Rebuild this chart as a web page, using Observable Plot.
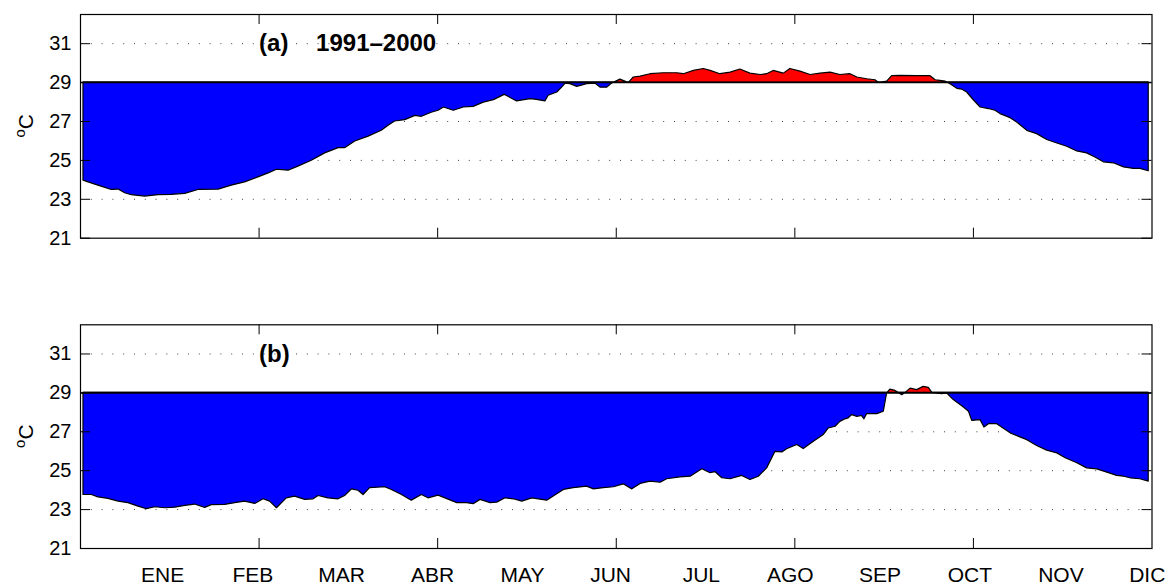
<!DOCTYPE html>
<html>
<head>
<meta charset="utf-8">
<script src="https://cdn.jsdelivr.net/npm/d3@7"></script>
<script src="https://cdn.jsdelivr.net/npm/@observablehq/plot@0.6"></script>
<style>
  html, body { margin: 0; padding: 0; background: #fff; }
  #chart { width: 1173px; height: 588px; font-family: "Liberation Sans", Arial, Helvetica, sans-serif; }
  #chart svg { display: block; background: #fff; overflow: visible; }
</style>
</head>
<body>
<div id="chart"></div>
<script>
// ---- data (day of a 360-day year, sea-surface temperature °C) ----
const threshold = 29;
const yTicks = [21, 23, 25, 27, 29, 31];
const xTicks = [60, 120, 180, 240, 300];
const months = ["ENE","FEB","MAR","ABR","MAY","JUN","JUL","AGO","SEP","OCT","NOV","DIC"];
const monthTickDays = [27.6, 57.9, 87.7, 118.3, 148.5, 178.1, 208.6, 238.5, 268.6, 298.8, 329.4, 358.4];

// panel (a) 1991–2000
const dayA = [1.0,2.7,6.0,10.5,12.8,15.0,17.2,21.7,26.2,30.7,35.2,39.6,46.4,50.8,55.3,59.8,63.2,66.0,69.9,73.2,
  77.7,82.2,86.7,88.9,92.3,96.8,101.2,103.5,105.7,109.1,112.5,114.7,118.0,120.3,122.1,125.4,128.8,132.1,135.5,138.9,
  142.5,146.7,151.2,153.4,156.2,157.3,160.2,161.8,163.0,164.6,166.9,170.2,173.0,174.7,177.0,178.6,181.4,184.2,185.9,188.2,
  191.5,196.0,200.5,202.7,206.1,209.4,211.7,215.0,218.4,221.7,225.1,228.5,230.7,232.9,236.3,238.5,241.9,245.3,248.6,252.0,
  255.3,258.7,261.0,264.3,267.1,268.2,271.0,272.7,275.5,281.1,285.6,287.3,288.9,290.6,292.3,294.6,296.2,297.9,299.9,302.4,
  305.2,307.4,309.1,312.5,314.7,318.1,321.4,324.8,328.2,331.5,334.9,338.2,341.0,343.8,347.2,350.6,353.9,356.1,358.9];
const sstA = [23.96,23.87,23.70,23.48,23.50,23.31,23.21,23.14,23.21,23.23,23.28,23.48,23.50,23.70,23.87,24.13,24.33,24.52,24.47,24.68,
  24.98,25.36,25.63,25.63,25.97,26.22,26.52,26.78,27.00,27.07,27.29,27.24,27.45,27.55,27.72,27.55,27.72,27.75,27.97,28.10,
  28.37,28.03,28.15,28.11,28.03,28.32,28.49,28.74,28.95,28.92,28.78,28.92,28.95,28.74,28.74,28.95,29.15,28.98,29.26,29.31,
  29.43,29.48,29.48,29.43,29.60,29.70,29.60,29.43,29.51,29.67,29.46,29.39,29.43,29.60,29.46,29.70,29.56,29.39,29.46,29.51,
  29.39,29.43,29.26,29.17,29.12,28.98,29.05,29.33,29.34,29.33,29.33,29.12,29.09,29.05,28.92,28.68,28.64,28.49,28.13,27.72,
  27.64,27.55,27.38,27.17,26.95,26.52,26.35,26.05,25.87,25.70,25.46,25.36,25.15,24.90,24.85,24.64,24.56,24.56,24.44];

// panel (b)
const dayB = [1.0,3.8,6.0,9.4,12.8,16.1,19.5,22.3,25.1,28.5,31.8,35.2,38.5,41.9,44.1,48.6,52.0,55.3,58.7,61.5,
  63.7,66.0,69.3,72.1,75.5,78.3,80.0,83.3,86.7,88.9,91.2,93.4,95.1,97.3,102.4,104.6,108.0,111.3,114.7,116.9,
  120.3,126.6,129.9,132.1,134.4,137.8,140.0,142.8,145.6,148.4,151.8,156.8,159.0,162.4,165.7,170.2,172.5,175.8,179.2,182.5,
  185.4,188.2,191.5,194.9,197.1,201.6,205.0,208.9,211.7,213.3,215.6,218.4,222.3,225.1,227.9,230.7,233.5,235.8,237.4,240.8,
  243.0,246.4,249.7,251.4,253.7,255.3,257.0,258.1,259.3,261.0,262.6,263.4,264.3,267.7,269.9,271.0,272.1,273.8,274.9,276.1,
  277.2,278.9,281.1,283.3,285.0,286.2,289.5,291.2,293.4,296.8,298.5,299.6,302.4,303.7,305.2,308.0,312.5,315.8,318.1,321.4,
  324.8,328.2,331.0,334.9,338.2,341.6,345.0,348.3,350.6,352.8,356.1,358.9];
const sstB = [23.75,23.75,23.63,23.55,23.41,23.33,23.15,23.02,23.12,23.07,23.10,23.19,23.26,23.09,23.23,23.24,23.33,23.41,23.29,23.53,
  23.41,23.07,23.58,23.67,23.50,23.53,23.70,23.58,23.53,23.70,24.04,23.97,23.75,24.10,24.15,24.01,23.75,23.46,23.75,23.58,
  23.72,23.33,23.33,23.28,23.50,23.33,23.36,23.58,23.53,23.41,23.58,23.46,23.67,24.01,24.10,24.18,24.04,24.10,24.15,24.30,
  24.04,24.32,24.44,24.38,24.56,24.66,24.69,25.07,24.87,24.93,24.61,24.56,24.73,24.52,24.69,25.12,25.97,25.94,26.10,26.32,
  26.11,26.49,26.83,27.17,27.26,27.51,27.64,27.69,27.86,27.77,27.81,27.64,27.91,27.91,28.03,28.97,29.17,29.10,29.00,28.88,
  29.00,29.22,29.14,29.31,29.26,29.00,28.93,28.97,28.63,28.25,28.03,27.56,27.60,27.22,27.39,27.39,26.92,26.71,26.57,26.27,
  26.03,25.89,25.64,25.38,25.12,25.07,24.90,24.73,24.69,24.61,24.56,24.44];

// ---- drawing ----
const W = 1173, mL = 80, mR = 21.5;
const frameH = 223.7;
const font = '"Liberation Sans", Arial, Helvetica, sans-serif';

function withCrossings(days, vals) {
  const out = [];
  for (let i = 0; i < days.length; i++) {
    if (i > 0) {
      const a = vals[i - 1] - threshold, b = vals[i] - threshold;
      if (a * b < 0) {
        const t = a / (a - b);
        out.push({day: days[i - 1] + t * (days[i] - days[i - 1]), v: threshold});
      }
    }
    out.push({day: days[i], v: vals[i]});
  }
  return out;
}

function panel({days, vals, tag, title, height, marginTop, marginBottom, showMonths}) {
  const series = withCrossings(days, vals);
  const frameW = W - mL - mR;
  const marks = [
    Plot.ruleY(yTicks.filter(d => d !== threshold && d !== yTicks[0]), {y: d => d, stroke: "#444", strokeWidth: 1, strokeDasharray: "1,9.8"}),
    Plot.areaY(series, {x: "day", y1: () => threshold, y2: d => Math.min(d.v, threshold), fill: "#0000ff", stroke: "#000", strokeWidth: 1.2}),
    Plot.areaY(series, {x: "day", y1: () => threshold, y2: d => Math.max(d.v, threshold), fill: "#ff0000", stroke: "#000", strokeWidth: 1.2}),
    Plot.ruleY([threshold], {y: d => d, stroke: "#000", strokeWidth: 1.5}),
    Plot.tickX(xTicks, {x: d => d, insetBottom: frameH - 10, stroke: "#000"}),
    Plot.tickX(xTicks, {x: d => d, insetTop: frameH - 10, stroke: "#000"}),
    Plot.tickY(yTicks, {y: d => d, insetRight: frameW - 10, stroke: "#000"}),
    Plot.tickY(yTicks, {y: d => d, insetLeft: frameW - 10, stroke: "#000"}),
    Plot.frame({stroke: "#000", strokeWidth: 1.2}),
    Plot.axisY(yTicks, {tickSize: 0, tickPadding: 9, fontSize: 20, label: null}),
    Plot.text([tag], {x: () => xTicks[0], y: () => yTicks[yTicks.length - 1], text: d => d, textAnchor: "start", fontWeight: "bold", fontSize: 24, fill: "#000"})
  ];
  if (title) {
    marks.push(Plot.text([title], {x: () => xTicks[0], y: () => yTicks[yTicks.length - 1], text: d => d, dx: 57, textAnchor: "start", fontWeight: "bold", fontSize: 24, fill: "#000"}));
  }
  if (showMonths) {
    marks.push(Plot.axisX(monthTickDays, {tickSize: 0, tickPadding: 19, fontSize: 21, label: null,
      tickFormat: d => months[monthTickDays.indexOf(d)]}));
  }
  const svg = Plot.plot({
    width: W, height, marginLeft: mL, marginRight: mR, marginTop, marginBottom,
    style: {fontFamily: font, color: "#000", background: "#fff", overflow: "visible"},
    x: {domain: [0, 360], axis: showMonths ? undefined : null},
    y: {domain: [21, 32.5]},
    marks
  });
  // y-axis label "°C" (superscript o)
  const cy = marginTop + frameH / 2;
  const t = d3.select(svg).append("text")
    .attr("transform", `translate(33,${cy}) rotate(-90)`)
    .attr("text-anchor", "middle")
    .attr("font-family", font)
    .attr("fill", "#000");
  t.append("tspan").attr("font-size", 15).attr("dy", -8).text("o");
  t.append("tspan").attr("font-size", 21).attr("dy", 8).text("C");
  return svg;
}

const root = document.getElementById("chart");
root.appendChild(panel({days: dayA, vals: sstA, tag: "(a)", title: "1991–2000", height: 280, marginTop: 14, marginBottom: 280 - 14 - frameH, showMonths: false}));
root.appendChild(panel({days: dayB, vals: sstB, tag: "(b)", title: null, height: 308, marginTop: 44.3, marginBottom: 308 - 44.3 - frameH, showMonths: true}));
</script>
</body>
</html>
